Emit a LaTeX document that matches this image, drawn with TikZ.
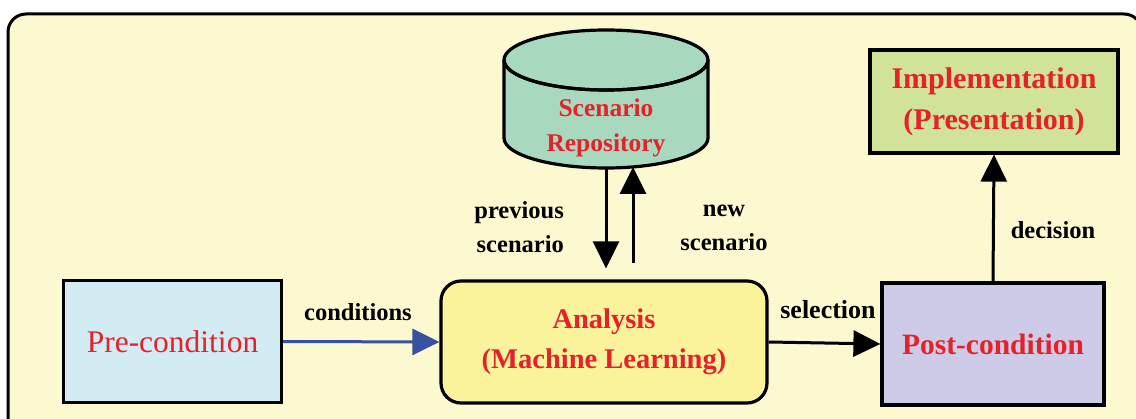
\documentclass[tikz,border=0pt]{standalone}
\usepackage{fontspec}
\setmainfont{Liberation Serif}
\usetikzlibrary{arrows.meta}
\definecolor{bgc}{HTML}{FCF9D0}
\definecolor{prec}{HTML}{D3ECF3}
\definecolor{anac}{HTML}{FAF39B}
\definecolor{repc}{HTML}{A8D9BF}
\definecolor{impc}{HTML}{D1E299}
\definecolor{postc}{HTML}{CDCBE7}
\definecolor{txtred}{HTML}{E52129}
\definecolor{arrblue}{HTML}{3A50A0}
\tikzset{
  box/.style={draw, line width=3.2pt, inner sep=0pt, align=center, text=txtred},
  arr/.style={line width=3pt, -{Triangle[length=27pt,width=26pt]}},
  lbl/.style={font=\fontsize{24.5}{34}\selectfont\bfseries, inner sep=0pt},
}
\begin{document}
\begin{tikzpicture}[x=1pt,y=-1pt]
\useasboundingbox (0,0) rectangle (1136,419);
\fill[white] (0,0) rectangle (1136,419);
\begin{scope}
\clip (0,0) rectangle (1136,419);
\draw[line width=3pt, fill=bgc, rounded corners=18pt] (8,14) rectangle (1142,445);
\end{scope}
% cylinder
\fill[repc] (504,60) -- (504,138) arc[start angle=180, end angle=360, x radius=102pt, y radius=30pt] -- (708,60) arc[start angle=0, end angle=180, x radius=102pt, y radius=30pt] -- cycle;
\draw[line width=3.2pt] (504,60) -- (504,138) arc[start angle=180, end angle=360, x radius=102pt, y radius=30pt] -- (708,60) arc[start angle=0, end angle=360, x radius=102pt, y radius=30pt];
\draw[line width=3.2pt] (504,60) arc[start angle=180, end angle=360, x radius=102pt, y radius=30pt];
\node[inner sep=0pt, align=center, text=txtred, font=\fontsize{25.5}{35}\selectfont\bfseries] (repo) at (606,128) {Scenario\\Repository};
\coordinate (rdown) at (606,168);
\coordinate (rup) at (633,167);

\node[box, fill=prec, minimum width=218pt, minimum height=122pt, font=\fontsize{31.5}{34}\selectfont] (pre) at (172.5,341.5) {Pre-condition};
\node[box, fill=anac, rounded corners=20pt, minimum width=326pt, minimum height=122pt, font=\fontsize{28.5}{40}\selectfont\bfseries] (ana) at (604,342) {Analysis\\(Machine Learning)};
\node[box, fill=postc, minimum width=222pt, minimum height=122pt, font=\fontsize{29.5}{34}\selectfont\bfseries] (post) at (993,344) {Post-condition};
\node[box, fill=impc, minimum width=248pt, minimum height=103pt, font=\fontsize{30}{41}\selectfont\bfseries] (impl) at (994,101.5) {Implementation\\(Presentation)};

\draw[arr, arrblue] (pre.east) -- (ana.west);
\draw[arr] (ana.east) -- (post.west);
\draw[arr] (post.north) -- (impl.south);
\draw[arr, shorten >=11pt] (rdown) -- (rdown |- ana.north);
\draw[arr, shorten <=16pt] (rup |- ana.north) -- (rup);

\node[lbl] (lcond) at (358,312) {conditions};
\node[lbl, font=\fontsize{26}{34}\selectfont\bfseries] (lsel) at (828,310) {selection};
\node[lbl] (ldec) at (1053,230) {decision};
\node[lbl, align=right, anchor=east] (lprev) at (564,227) {previous\\scenario};
\node[lbl, align=center] (lnew) at (724,228) {new\\scenario};
\end{tikzpicture}
\end{document}
